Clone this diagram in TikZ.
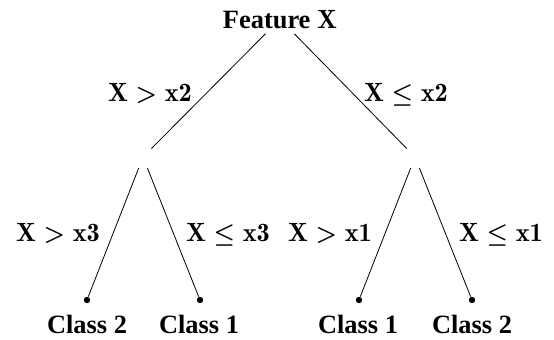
\documentclass[tikz,border=0pt]{standalone}
\usepackage[no-math]{fontspec}
\setmainfont{Liberation Serif}
% the split labels use latin modern bold
\newcommand\lmbf[1]{{\fontfamily{lmr}\selectfont #1}}

\tikzset{
    lbl/.style={anchor=base, inner sep=0pt,
        font=\fontsize{13.2}{15}\selectfont\bfseries\boldmath},
    split/.style={circle, minimum size=11.5pt, inner sep=0pt},
    leaf/.style={circle, fill, inner sep=0pt, minimum size=3.2pt},
}

\begin{document}
\begin{tikzpicture}[x=0.5pt, y=-0.5pt]
    \useasboundingbox (0,0) rectangle (554,339);

    % root and the two inner splits
    \node[lbl, inner ysep=2.5pt] (root) at (280,28) {Feature \lmbf{X}};
    \node[split] (s1) at (143,157) {};
    \node[split] (s2) at (415,157) {};

    % leaves
    \node[leaf] (l1) at (87,300) {};
    \node[leaf] (l2) at (200,300) {};
    \node[leaf] (l3) at (359,300) {};
    \node[leaf] (l4) at (472,300) {};

    \node[lbl] (c1) at (87,333) {Class 2};
    \node[lbl] (c2) at (199,333) {Class 1};
    \node[lbl] (c3) at (358,333) {Class 1};
    \node[lbl] (c4) at (472,333) {Class 2};

    % branches
    \draw (root) -- (s1);
    \draw (root) -- (s2);
    \draw (s1) -- (l1);
    \draw (s1) -- (l2);
    \draw (s2) -- (l3);
    \draw (s2) -- (l4);

    % split conditions
    \node[lbl] (t1) at (150,101) {\lmbf{X}$\;>\;$\lmbf{x2}};
    \node[lbl] (t2) at (406,101) {\lmbf{X}$\;\leq\;$\lmbf{x2}};
    \node[lbl] (t3) at (58,241) {\lmbf{X}$\;>\;$\lmbf{x3}};
    \node[lbl] (t4) at (228,241) {\lmbf{X}$\;\leq\;$\lmbf{x3}};
    \node[lbl] (t5) at (330,241) {\lmbf{X}$\;>\;$\lmbf{x1}};
    \node[lbl] (t6) at (501,241) {\lmbf{X}$\;\leq\;$\lmbf{x1}};
\end{tikzpicture}
\end{document}
